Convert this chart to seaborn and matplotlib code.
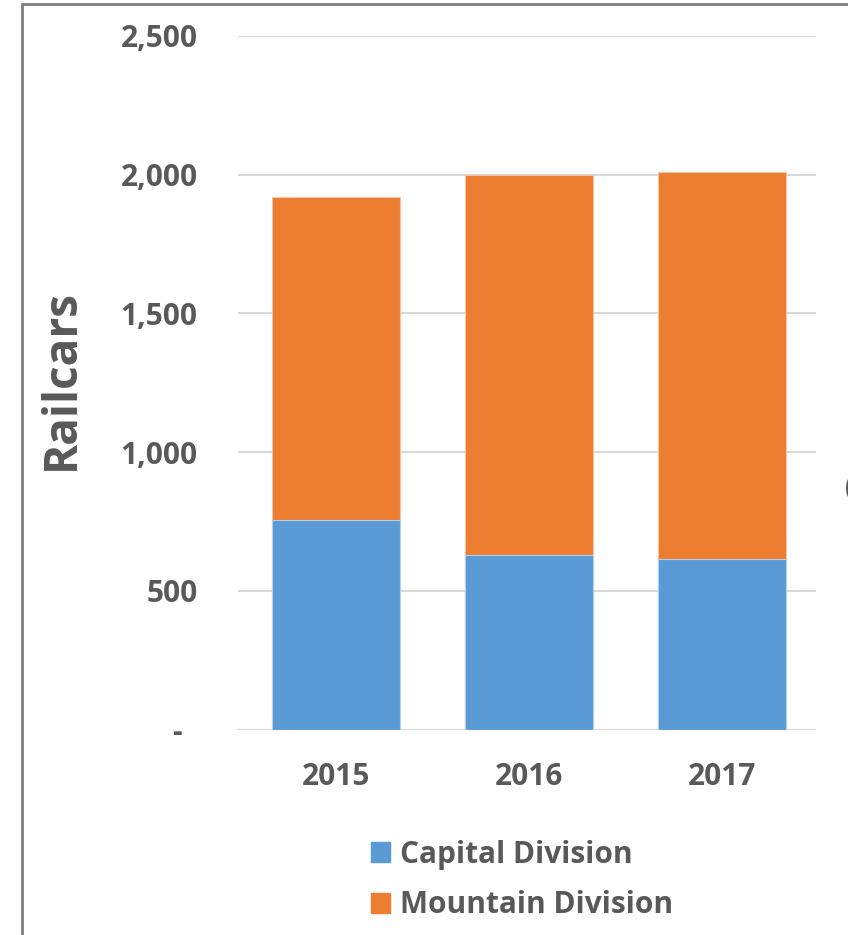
import matplotlib
matplotlib.use("Agg")
import matplotlib.pyplot as plt
import seaborn as sns
import pandas as pd
from matplotlib.patches import Patch
from matplotlib.lines import Line2D
from matplotlib.ticker import FixedLocator, FixedFormatter

years = ["2015", "2016", "2017"]
capital = [755, 629, 615]
mountain = [1164, 1369, 1394]
y_ticks = [0, 500, 1000, 1500, 2000, 2500]
y_tick_labels = ["-  ", "500", "1,000", "1,500", "2,000", "2,500"]

BLUE = "#5B9BD5"
ORANGE = "#ED7D31"
TXT = "#595959"

sns.set_theme(style="white")
plt.rcParams["font.family"] = ["Open Sans", "DejaVu Sans"]

df = pd.DataFrame({"year": years, "capital": capital, "mountain": mountain})
df["total"] = df["capital"] + df["mountain"]

fig = plt.figure(figsize=(8.48, 9.35), dpi=100)
ax = fig.add_axes([238/848, 1-729.7/935, (816-238)/848, (729.7-35.7)/935])

sns.barplot(data=df, x="year", y="total", color=ORANGE, saturation=1, width=0.665,
            edgecolor="#F6C5A4", linewidth=0.8, ax=ax, zorder=2)
sns.barplot(data=df, x="year", y="capital", color=BLUE, saturation=1, width=0.665,
            edgecolor="#B4D1EC", linewidth=0.8, ax=ax, zorder=3)

ax.set_ylim(0, 2500)
ax.set_xlim(-0.51, 2.49)
ax.yaxis.set_major_locator(FixedLocator(y_ticks))
ax.yaxis.set_major_formatter(FixedFormatter(y_tick_labels))
ax.grid(axis="y", color="#D9D9D9", linewidth=1.5, zorder=0)
ax.set_axisbelow(True)
for s in ax.spines.values():
    s.set_visible(False)
ax.tick_params(axis="y", length=0, pad=29, labelsize=21.5, labelcolor=TXT)
ax.tick_params(axis="x", length=0, pad=23, labelsize=21.5, labelcolor=TXT)
for lab in ax.get_yticklabels() + ax.get_xticklabels():
    lab.set_fontweight("bold")
ax.set_xlabel("")
ax.set_ylabel("Railcars", fontsize=33, fontweight="bold", color=TXT)
ax.yaxis.set_label_coords(-0.265, 0.505)

handles = [Patch(facecolor=BLUE, edgecolor=BLUE, label="Capital Division"),
           Patch(facecolor=ORANGE, edgecolor=ORANGE, label="Mountain Division")]
leg = fig.legend(handles=handles, loc="center", bbox_to_anchor=(522/848, 1-880/935),
                 frameon=False, ncol=1, handlelength=0.65, handleheight=0.65,
                 handletextpad=0.33, labelspacing=0.7,
                 prop={"size": 21.5, "weight": "bold"})
for t in leg.get_texts():
    t.set_color(TXT)

# screenshot frame
fig.add_artist(Line2D([22/848, 22/848], [0, 1-4/935], color="#7F7F7F", linewidth=2,
                      transform=fig.transFigure))
fig.add_artist(Line2D([22/848, 1], [1-4/935, 1-4/935], color="#7F7F7F", linewidth=2,
                      transform=fig.transFigure))
fig.text(845/848, 1-487/935, "(", fontsize=19, color=TXT, ha="left", va="center",
         fontweight="bold")

fig.savefig("out.png", dpi=100)
